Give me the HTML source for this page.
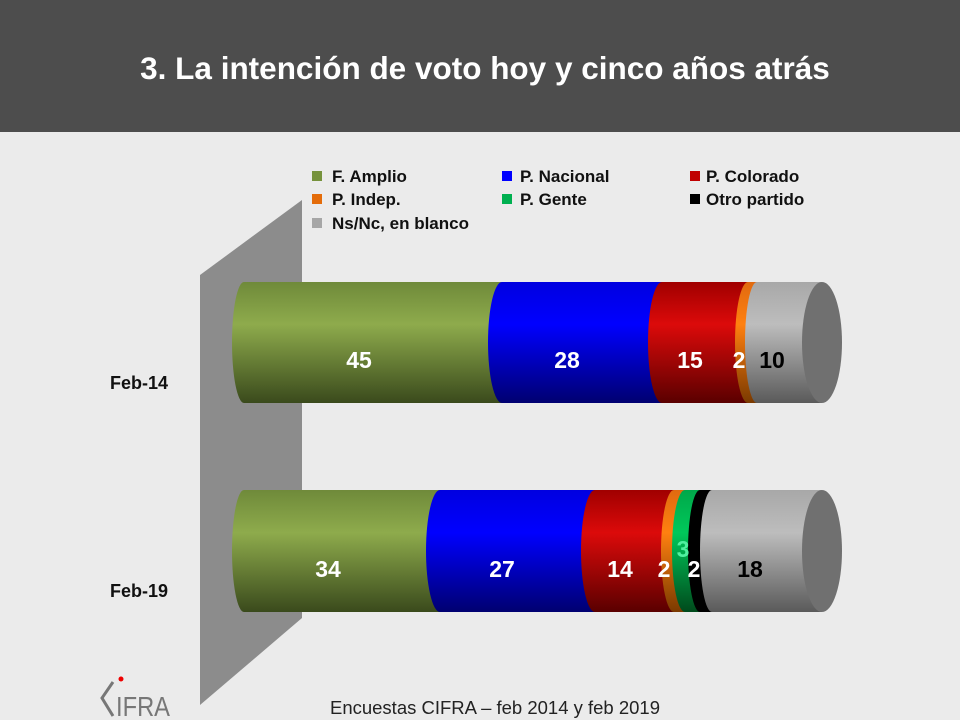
<!DOCTYPE html>
<html><head><meta charset="utf-8"><style>
html,body{margin:0;padding:0;width:960px;height:720px;overflow:hidden;background:#ebebeb}
svg{display:block}
</style></head><body>
<svg width="960" height="720" viewBox="0 0 960 720" xmlns="http://www.w3.org/2000/svg" font-family="'Liberation Sans', sans-serif">
<defs>
<linearGradient id="gG" x1="0" y1="0" x2="0" y2="1"><stop offset="0" stop-color="#6f8a3a"/><stop offset="0.35" stop-color="#8eab4c"/><stop offset="1" stop-color="#3a4a1c"/></linearGradient>
<linearGradient id="gB" x1="0" y1="0" x2="0" y2="1"><stop offset="0" stop-color="#0000e0"/><stop offset="0.35" stop-color="#0000ff"/><stop offset="1" stop-color="#000070"/></linearGradient>
<linearGradient id="gR" x1="0" y1="0" x2="0" y2="1"><stop offset="0" stop-color="#a00000"/><stop offset="0.35" stop-color="#dc0a0a"/><stop offset="1" stop-color="#5a0000"/></linearGradient>
<linearGradient id="gO" x1="0" y1="0" x2="0" y2="1"><stop offset="0" stop-color="#e06a10"/><stop offset="0.35" stop-color="#ff8010"/><stop offset="1" stop-color="#7a3a00"/></linearGradient>
<linearGradient id="gN" x1="0" y1="0" x2="0" y2="1"><stop offset="0" stop-color="#00a84a"/><stop offset="0.35" stop-color="#00c85a"/><stop offset="1" stop-color="#004a1c"/></linearGradient>
<linearGradient id="gS" x1="0" y1="0" x2="0" y2="1"><stop offset="0" stop-color="#a8a8a8"/><stop offset="0.35" stop-color="#bdbdbd"/><stop offset="1" stop-color="#5a5a5a"/></linearGradient>
</defs>
<rect x="0" y="0" width="960" height="132" fill="#4d4d4d"/>
<text x="485" y="79" fill="#fff" font-size="31.5" font-weight="bold" text-anchor="middle">3. La intención de voto hoy y cinco años atrás</text>
<polygon points="200,275 302,200 302,618 200,705" fill="#8c8c8c"/>
<g font-size="17" font-weight="bold" fill="#111">
<rect x="312" y="171" width="10" height="10" fill="#76923c"/><text x="332" y="182">F. Amplio</text>
<rect x="502" y="171" width="10" height="10" fill="#0000ff"/><text x="520" y="182">P. Nacional</text>
<rect x="690" y="171" width="10" height="10" fill="#c00000"/><text x="706" y="182">P. Colorado</text>
<rect x="312" y="194" width="10" height="10" fill="#e46c0a"/><text x="332" y="205">P. Indep.</text>
<rect x="502" y="194" width="10" height="10" fill="#00b050"/><text x="520" y="205">P. Gente</text>
<rect x="690" y="194" width="10" height="10" fill="#000"/><text x="706" y="205">Otro partido</text>
<rect x="312" y="218" width="10" height="10" fill="#a6a6a6"/><text x="332" y="229">Ns/Nc, en blanco</text>
</g>
<g>
<path d="M244,282 H822 V403 H244 A12,60.5 0 0 1 244,282 Z" fill="url(#gG)"/>
<path d="M502,282 H822 V403 H502 A14,60.5 0 0 1 502,282 Z" fill="url(#gB)"/>
<path d="M662,282 H822 V403 H662 A14,60.5 0 0 1 662,282 Z" fill="url(#gR)"/>
<path d="M748,282 H822 V403 H748 A13,60.5 0 0 1 748,282 Z" fill="url(#gO)"/>
<path d="M757,282 H822 V403 H757 A12,60.5 0 0 1 757,282 Z" fill="url(#gS)"/>
<ellipse cx="822" cy="342.5" rx="20" ry="60.5" fill="#707070"/>
</g>
<g font-size="23" font-weight="bold" text-anchor="middle">
<text x="359" y="368" fill="#fff">45</text>
<text x="567" y="368" fill="#fff">28</text>
<text x="690" y="368" fill="#fff">15</text>
<text x="739" y="368" fill="#fff">2</text>
<text x="772" y="368" fill="#000">10</text>
</g>
<g>
<path d="M244,490 H822 V612 H244 A12,61 0 0 1 244,490 Z" fill="url(#gG)"/>
<path d="M440,490 H822 V612 H440 A14,61 0 0 1 440,490 Z" fill="url(#gB)"/>
<path d="M595,490 H822 V612 H595 A14,61 0 0 1 595,490 Z" fill="url(#gR)"/>
<path d="M674,490 H822 V612 H674 A13,61 0 0 1 674,490 Z" fill="url(#gO)"/>
<path d="M685,490 H822 V612 H685 A13,61 0 0 1 685,490 Z" fill="url(#gN)"/>
<path d="M700,490 H822 V612 H700 A12,61 0 0 1 700,490 Z" fill="#000"/>
<path d="M712,490 H822 V612 H712 A12,61 0 0 1 712,490 Z" fill="url(#gS)"/>
<ellipse cx="822" cy="551" rx="20" ry="61" fill="#707070"/>
</g>
<g font-size="23" font-weight="bold" text-anchor="middle">
<text x="328" y="577" fill="#fff">34</text>
<text x="502" y="577" fill="#fff">27</text>
<text x="620" y="577" fill="#fff">14</text>
<text x="664" y="577" fill="#fff">2</text>
<text x="683" y="557" fill="#50f0a0">3</text>
<text x="694" y="577" fill="#fff">2</text>
<text x="750" y="577" fill="#000">18</text>
</g>
<g font-size="18" font-weight="bold" fill="#111">
<text x="110" y="389">Feb-14</text>
<text x="110" y="597">Feb-19</text>
</g>
<g fill="none" stroke="#777" stroke-width="3">
<polyline points="113,682 102,698 113,716"/>
</g>
<circle cx="121" cy="679" r="2.5" fill="#e00"/>
<text x="116" y="716" font-size="28" fill="#777" textLength="54" lengthAdjust="spacingAndGlyphs">IFRA</text>
<text x="330" y="714" font-size="18" fill="#222" textLength="330" lengthAdjust="spacingAndGlyphs">Encuestas CIFRA – feb 2014 y feb 2019</text>
</svg>
</body></html>
